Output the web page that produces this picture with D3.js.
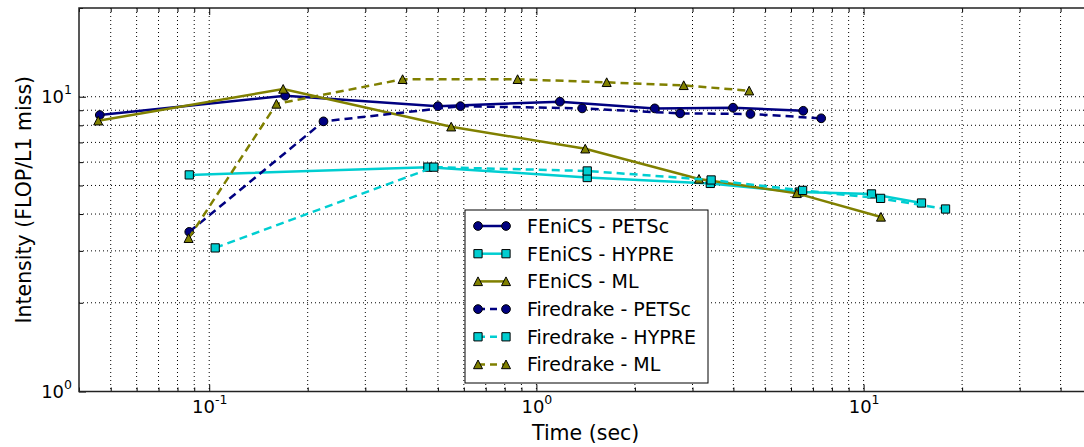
<!DOCTYPE html>
<html lang="en">
<head>
<meta charset="UTF-8">
<title>Intensity vs time</title>
<script src="https://cdn.jsdelivr.net/npm/d3@7"></script>
<style>
    body { margin: 0; background: #fff; }
    svg text { font-family: "DejaVu Sans", sans-serif; fill: #000; }
    .axis path { display: none; }
    .axis line { stroke: #000; stroke-width: 1; }
    .grid line { stroke: #000; stroke-width: 1; stroke-dasharray: 1, 3; }
</style>
</head>
<body>
<div id="chart"></div>
<script>
    // data (time in sec, intensity in FLOP / L1 miss)
    var fenicsPetscTime = [0.0463, 0.1707, 0.500, 1.18, 2.30, 3.99, 6.54];
    var fenicsPetscIntensity = [8.67, 10.08, 9.29, 9.62, 9.13, 9.18, 8.96];
    var fenicsHypreTime = [0.0869, 0.466, 1.43, 3.40, 6.36, 10.57, 15.03];
    var fenicsHypreIntensity = [5.43, 5.77, 5.32, 5.08, 4.75, 4.68, 4.36];
    var fenicsMlTime = [0.0458, 0.1683, 0.549, 1.41, 3.14, 6.25, 11.3];
    var fenicsMlIntensity = [8.29, 10.62, 7.91, 6.66, 5.26, 4.70, 3.91];
    var firedrakePetscTime = [0.0869, 0.2235, 0.586, 1.38, 2.75, 4.51, 7.42];
    var firedrakePetscIntensity = [3.48, 8.25, 9.29, 9.13, 8.78, 8.74, 8.45];
    var firedrakeHypreTime = [0.1043, 0.486, 1.43, 3.42, 6.51, 11.27, 17.8];
    var firedrakeHypreIntensity = [3.07, 5.77, 5.60, 5.22, 4.81, 4.52, 4.16];
    var firedrakeMlTime = [0.0865, 0.1605, 0.390, 0.876, 1.64, 2.82, 4.47];
    var firedrakeMlIntensity = [3.31, 9.45, 11.46, 11.46, 11.19, 10.93, 10.48];

    var seriesNames = ["FEniCS - PETSc", "FEniCS - HYPRE", "FEniCS - ML",
        "Firedrake - PETSc", "Firedrake - HYPRE", "Firedrake - ML"];
    var xMajorTicks = [0.1, 1, 10];
    var yMajorTicks = [1, 10];

    var width = 1084;
    var height = 447;
    var plot = {left: 79, right: 1092.3, top: 8, bottom: 391.5};

    var svg = d3.select("#chart")
            .append("svg")
            .attr("width", width)
            .attr("height", height);

    var xScale = d3.scaleLog()
            .domain([0.04, 50])
            .range([plot.left, plot.right]);

    var yScale = d3.scaleLog()
            .domain([1, 20])
            .range([plot.bottom, plot.top]);

    var colors = ["#000080", "#00CED1", "#808000", "#000080", "#00CED1", "#808000"];
    var markers = ["circle", "square", "triangle", "circle", "square", "triangle"];

    var series = [
        {time: fenicsPetscTime, value: fenicsPetscIntensity, dashed: false},
        {time: fenicsHypreTime, value: fenicsHypreIntensity, dashed: false},
        {time: fenicsMlTime, value: fenicsMlIntensity, dashed: false},
        {time: firedrakePetscTime, value: firedrakePetscIntensity, dashed: true},
        {time: firedrakeHypreTime, value: firedrakeHypreIntensity, dashed: true},
        {time: firedrakeMlTime, value: firedrakeMlIntensity, dashed: true}
    ];
    series.forEach(function (s, i) {
        s.name = seriesNames[i];
        s.color = colors[i];
        s.marker = markers[i];
        s.points = s.time.map(function (t, j) { return [t, s.value[j]]; });
    });

    //grid on every major and minor tick
    var grid = svg.append("g").attr("class", "grid");
    grid.selectAll("line.vx")
            .data(xScale.ticks().filter(function (d) { return d > 0.04; }))
            .enter()
            .append("line")
            .attr("x1", function (d) { return xScale(d); })
            .attr("x2", function (d) { return xScale(d); })
            .attr("y1", plot.top)
            .attr("y2", plot.bottom);
    grid.selectAll("line.hy")
            .data(yScale.ticks().filter(function (d) { return d > 1 && d < 20; }))
            .enter()
            .append("line")
            .attr("x1", plot.left)
            .attr("x2", plot.right)
            .attr("y1", function (d) { return yScale(d); })
            .attr("y2", function (d) { return yScale(d); });

    //inward ticks, minor then major
    function minorOnly(ticks, majors) {
        return ticks.filter(function (d) { return majors.indexOf(d) < 0; });
    }
    var xMinor = minorOnly(xScale.ticks(), xMajorTicks);
    var yMinor = minorOnly(yScale.ticks(), yMajorTicks);

    svg.append("g").attr("class", "axis")
            .attr("transform", "translate(0," + plot.bottom + ")")
            .call(d3.axisBottom(xScale).tickValues(xMinor).tickSize(-4).tickFormat(""));
    svg.append("g").attr("class", "axis")
            .attr("transform", "translate(0," + plot.top + ")")
            .call(d3.axisTop(xScale).tickValues(xMinor).tickSize(-4).tickFormat(""));
    svg.append("g").attr("class", "axis")
            .attr("transform", "translate(0," + plot.top + ")")
            .call(d3.axisTop(xScale).tickValues(xMajorTicks).tickSize(-7).tickFormat(""));
    svg.append("g").attr("class", "axis")
            .attr("transform", "translate(" + plot.left + ",0)")
            .call(d3.axisLeft(yScale).tickValues(yMinor).tickSize(-4).tickFormat(""));

    var xAxisG = svg.append("g").attr("class", "axis x-major")
            .attr("transform", "translate(0," + plot.bottom + ")")
            .call(d3.axisBottom(xScale).tickValues(xMajorTicks).tickSize(-7));
    var yAxisG = svg.append("g").attr("class", "axis y-major")
            .attr("transform", "translate(" + plot.left + ",0)")
            .call(d3.axisLeft(yScale).tickValues(yMajorTicks).tickSize(-7));

    //tick labels as 10 with a superscript exponent
    function powerLabel(sel) {
        sel.each(function (d) {
            var t = d3.select(this);
            t.text(null).attr("font-size", "18px").attr("dy", null);
            t.append("tspan").text("10");
            t.append("tspan")
                    .attr("dy", -9)
                    .attr("font-size", "12.5px")
                    .text(String(Math.round(Math.log10(d))));
        });
    }
    xAxisG.selectAll(".tick text")
            .call(powerLabel)
            .attr("y", 21.7)
            .attr("text-anchor", "middle");
    yAxisG.selectAll(".tick text")
            .call(powerLabel)
            .attr("x", -7)
            .attr("y", 5.5)
            .attr("text-anchor", "end");

    //series lines and markers
    var line = d3.line()
            .x(function (d) { return xScale(d[0]); })
            .y(function (d) { return yScale(d[1]); });

    function markerPath(type) {
        if (type === "circle") return d3.symbol(d3.symbolCircle, 60)();
        if (type === "square") return d3.symbol(d3.symbolSquare, 68)();
        return "M0,-4.5L4.5,4.2L-4.5,4.2Z";
    }

    series.forEach(function (s) {
        var g = svg.append("g");
        g.append("path")
                .datum(s.points)
                .attr("fill", "none")
                .attr("stroke", s.color)
                .attr("stroke-width", 2.5)
                .attr("stroke-dasharray", s.dashed ? "8,5" : null)
                .attr("d", line);
        g.selectAll("path.mark")
                .data(s.points)
                .enter()
                .append("path")
                .attr("class", "mark")
                .attr("transform", function (d) {
                    return "translate(" + xScale(d[0]) + "," + yScale(d[1]) + ")";
                })
                .attr("d", markerPath(s.marker))
                .attr("fill", s.color)
                .attr("stroke", "#000")
                .attr("stroke-width", 1);
    });

    //frame
    svg.append("rect")
            .attr("x", plot.left)
            .attr("y", plot.top)
            .attr("width", plot.right - plot.left)
            .attr("height", plot.bottom - plot.top)
            .attr("fill", "none")
            .attr("stroke", "#222")
            .attr("stroke-width", 1.5);

    //axis titles
    svg.append("text")
            .attr("x", (plot.left + plot.right) / 2)
            .attr("y", 440)
            .attr("text-anchor", "middle")
            .attr("font-size", "20.5px")
            .text("Time (sec)");
    svg.append("text")
            .attr("transform", "translate(31," + (plot.top + plot.bottom) / 2 + ") rotate(-90)")
            .attr("text-anchor", "middle")
            .attr("font-size", "20.5px")
            .text("Intensity (FLOP/L1 miss)");

    //legend
    var legend = svg.append("g").attr("transform", "translate(465,210)");
    legend.append("rect")
            .attr("width", 243)
            .attr("height", 173)
            .attr("fill", "#fff")
            .attr("stroke", "#000")
            .attr("stroke-width", 1);
    var rows = legend.selectAll("g.row")
            .data(series)
            .enter()
            .append("g")
            .attr("class", "row")
            .attr("transform", function (d, i) { return "translate(0," + (16 + i * 27.7) + ")"; });
    rows.append("line")
            .attr("x1", 13)
            .attr("x2", 41)
            .attr("stroke", function (d) { return d.color; })
            .attr("stroke-width", 2.5)
            .attr("stroke-dasharray", function (d) { return d.dashed ? "7,5" : null; });
    [13, 41].forEach(function (mx) {
        rows.append("path")
                .attr("transform", "translate(" + mx + ",0)")
                .attr("d", function (d) { return markerPath(d.marker); })
                .attr("fill", function (d) { return d.color; })
                .attr("stroke", "#000")
                .attr("stroke-width", 1);
    });
    rows.append("text")
            .attr("x", 62)
            .attr("y", 6.8)
            .attr("font-size", "19px")
            .text(function (d) { return d.name; });
</script>
</body>
</html>
